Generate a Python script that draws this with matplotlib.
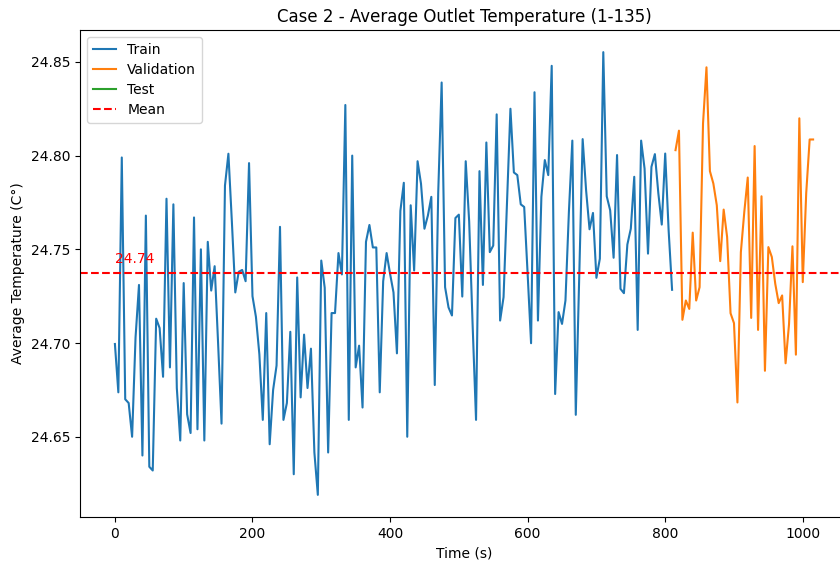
import numpy as np
import matplotlib
matplotlib.use("Agg")
import matplotlib.pyplot as plt

train_time = list(range(0, 815, 5))
train_values = [
    24.6995, 24.6737, 24.799, 24.670, 24.668, 24.650, 24.703, 24.731, 24.640, 24.768,
    24.634, 24.632, 24.713, 24.708, 24.682, 24.777, 24.687, 24.774, 24.676, 24.648,
    24.732, 24.662, 24.652, 24.767, 24.654, 24.750, 24.648, 24.754, 24.728, 24.741,
    24.700, 24.657, 24.784, 24.801, 24.765, 24.727, 24.738, 24.739, 24.733, 24.796,
    24.725, 24.714, 24.694, 24.659, 24.716, 24.646, 24.675, 24.688, 24.762, 24.659,
    24.668, 24.706, 24.630, 24.735, 24.671, 24.7045, 24.676, 24.697, 24.6416, 24.619,
    24.744, 24.7295, 24.6416, 24.716, 24.716, 24.748, 24.7366, 24.827, 24.659, 24.800,
    24.687, 24.6986, 24.6656, 24.754, 24.763, 24.751, 24.751, 24.6737, 24.733, 24.748,
    24.737, 24.727, 24.6945, 24.7705, 24.7855, 24.650, 24.7735, 24.7387, 24.797, 24.785,
    24.761, 24.768, 24.778, 24.6776, 24.780, 24.839, 24.7298, 24.719, 24.7147, 24.7667,
    24.7685, 24.7248, 24.797, 24.765, 24.710, 24.659, 24.7917, 24.731, 24.807, 24.7485,
    24.752, 24.822, 24.712, 24.7245, 24.774, 24.825, 24.791, 24.7896, 24.774, 24.7726,
    24.737, 24.6999, 24.8338, 24.712, 24.778, 24.7976, 24.7896, 24.8479, 24.6728, 24.7165,
    24.7102, 24.7227, 24.770, 24.808, 24.6617, 24.735, 24.8088, 24.7815, 24.7607, 24.7694,
    24.7348, 24.745, 24.8552, 24.7783, 24.7708, 24.7455, 24.8003, 24.7289, 24.7266, 24.7526,
    24.761, 24.7887, 24.707, 24.808, 24.7931, 24.7477, 24.794, 24.8008, 24.780, 24.7632,
    24.8011, 24.760, 24.7284,
]

val_time = list(range(815, 1020, 5))
val_values = [
    24.8029, 24.8133, 24.7124, 24.7227, 24.7182, 24.7589, 24.7227, 24.7298, 24.8172, 24.8471,
    24.7917, 24.7851, 24.7735, 24.7437, 24.7712, 24.7566, 24.7159, 24.7106, 24.6683, 24.7485,
    24.770, 24.7883, 24.7134, 24.8051, 24.707, 24.7783, 24.6852, 24.7512, 24.7459, 24.7316,
    24.7213, 24.7254, 24.6892, 24.710, 24.7516, 24.6938, 24.8199, 24.7325, 24.780, 24.8086,
    24.8086,
]

test_time = []
test_values = []

mean_value = 24.7375

fig = plt.figure(figsize=(8.4, 5.62), dpi=100)
ax = fig.add_axes([80 / 840, (562 - 517) / 562, 768 / 840, 487 / 562])

ax.plot(train_time, train_values, label="Train")
ax.plot(val_time, val_values, label="Validation")
ax.plot(test_time, test_values, label="Test")
ax.axhline(mean_value, color="red", linestyle="--", linewidth=1.5, label="Mean")
ax.text(train_time[0], mean_value + 0.0035, f"{mean_value:.2f}", color="red",
        va="bottom", ha="left", fontsize=10)

ax.set_title("Case 2 - Average Outlet Temperature (1-135)")
ax.set_xlabel("Time (s)")
ax.set_ylabel("Average Temperature (C°)")
ax.legend(loc="upper left", handlelength=1.7, labelspacing=0.45)

fig.savefig("out.png", dpi=100)
